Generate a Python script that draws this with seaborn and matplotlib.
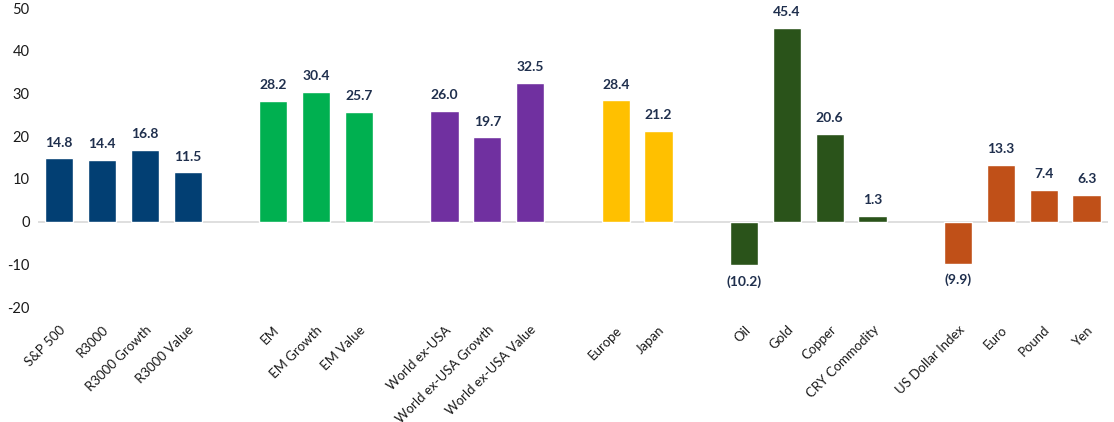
import pandas as pd
import matplotlib
matplotlib.use("Agg")
import matplotlib.pyplot as plt
import seaborn as sns

# chart data, group gaps are blank slots
categories = ["S&P 500", "R3000", "R3000 Growth", "R3000 Value", " ",
              "EM", "EM Growth", "EM Value", "  ",
              "World ex-USA", "World ex-USA Growth", "World ex-USA Value", "   ",
              "Europe", "Japan", "    ",
              "Oil", "Gold", "Copper", "CRY Commodity", "     ",
              "US Dollar Index", "Euro", "Pound", "Yen"]
values = [14.8, 14.4, 16.8, 11.5, None,
          28.2, 30.4, 25.7, None,
          26.0, 19.7, 32.5, None,
          28.4, 21.2, None,
          -10.2, 45.4, 20.6, 1.3, None,
          -9.9, 13.3, 7.4, 6.3]
groups = ["US"] * 4 + ["gap"] + ["EM"] * 3 + ["gap"] + ["World"] * 3 + ["gap"] \
    + ["Dev"] * 2 + ["gap"] + ["Commod"] * 4 + ["gap"] + ["FX"] * 4

palette = {"US": "#023F73", "EM": "#00B050", "World": "#7030A0",
           "Dev": "#FFC000", "Commod": "#2A531A", "FX": "#C05018", "gap": "white"}

df = pd.DataFrame({"cat": categories, "val": values, "grp": groups})

sns.set_style("white")
plt.rcParams["font.family"] = ["Lato", "DejaVu Sans"]
plt.rcParams["axes.unicode_minus"] = False

fig = plt.figure(figsize=(11.14, 4.22), dpi=100)
ax = fig.add_axes([0.034, 0.2725, 0.9606, 0.7085])

sns.barplot(data=df, x="cat", y="val", hue="grp", order=categories,
            palette=palette, dodge=False, width=0.66, saturation=1,
            legend=False, ax=ax)

ax.set_xlim(-0.5, len(categories) - 0.5)
ax.set_ylim(-20, 50)
ax.set_yticks(range(-20, 51, 10))
ax.axhline(0, color="#D9D9D9", lw=1.2, zorder=0)
sns.despine(ax=ax, left=True, bottom=True)
ax.set_xlabel("")
ax.set_ylabel("")
ax.tick_params(axis="y", length=0, labelsize=10.5, labelcolor="#1a1a1a", pad=6)
ax.tick_params(axis="x", length=0, labelsize=9.5, labelcolor="#1a1a1a", pad=12)
plt.setp(ax.get_xticklabels(), rotation=45, ha="right", rotation_mode="anchor")

for i, v in enumerate(values):
    if v is None:
        continue
    if v >= 0:
        ax.annotate(f"{v:.1f}", (i, v), xytext=(0, 7), textcoords="offset points",
                    ha="center", va="bottom", fontsize=10, fontweight="bold",
                    color="#1F2F4D")
    else:
        ax.annotate(f"({abs(v):.1f})", (i, v), xytext=(0, -7), textcoords="offset points",
                    ha="center", va="top", fontsize=10, fontweight="bold",
                    color="#1F2F4D")

fig.savefig("out.png", dpi=100)
